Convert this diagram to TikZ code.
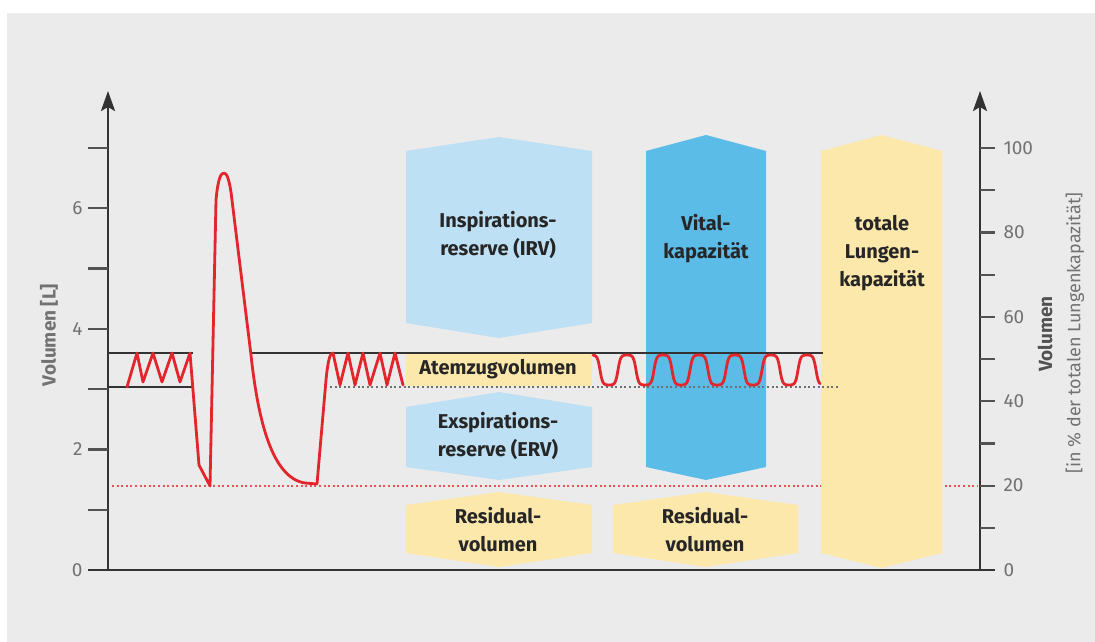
\documentclass[tikz,border=0pt]{standalone}
\usepackage{fontspec}
\setmainfont{Fira Sans}
\usepackage{xcolor}
\usepackage{tikz}
\usetikzlibrary{arrows.meta}
\definecolor{bg}{HTML}{EBEBEB}
\definecolor{axis}{HTML}{333333}
\definecolor{muted}{HTML}{727272}
\definecolor{ink}{HTML}{262626}
\definecolor{lightblue}{HTML}{BDE0F4}
\definecolor{midblue}{HTML}{5CBCE8}
\definecolor{pale}{HTML}{FDE8AC}
\definecolor{curve}{HTML}{E2262C}
\tikzset{
  ax/.style={-{Stealth[length=20pt,width=14pt,inset=4pt]}, line width=2.6pt, draw=axis},
  tk/.style={line width=2.2pt, draw=axis!85},
  level/.style={line width=2.7pt, draw=axis},
  dotlevel/.style={line width=2.2pt, draw=axis!70, dash pattern=on 2pt off 2.6pt},
  rvlevel/.style={line width=2.2pt, draw=curve!80, dash pattern=on 2pt off 2.6pt},
  breath/.style={line width=2.8pt, draw=curve, line join=round, line cap=round},
  lbl/.style={font=\fontsize{20}{28}\selectfont\bfseries, text=ink, align=center},
  num/.style={font=\fontsize{19}{19}\selectfont, text=muted},
  ttl/.style={font=\fontsize{19}{19}\selectfont\bfseries, text=muted, rotate=90}
}
\newcommand{\Hexa}[7]{% colour, x left, x right, top tip, top edge, bottom edge, bottom tip
  \fill[#1] (#2,#5) -- ({(#2+#3)/2},#4) -- (#3,#5) -- (#3,#6) -- ({(#2+#3)/2},#7) -- (#2,#6) -- cycle;
}

\begin{document}
\begin{tikzpicture}[x=1pt,y=-1pt]
  \useasboundingbox (0,0) rectangle (1095,642);
  \fill[white] (0,0) rectangle (1095,642);
  \fill[bg] (7,13) rectangle (1095,642);
  % residual volume level
  \draw[rvlevel] (112,486) -- (978,486);
  % volume blocks
  \Hexa{pale}{821}{942}{135}{151}{553}{568}
  \Hexa{lightblue}{406}{592}{137}{151}{323}{338}
  \fill[pale] (406,353) rectangle (592,386);
  \Hexa{lightblue}{406}{592}{392}{407}{467}{480}
  \Hexa{pale}{406}{592}{492}{505}{553}{567}
  \Hexa{pale}{613}{798}{492}{505}{553}{567}
  \Hexa{midblue}{646}{766}{135}{151}{467}{480}
  % levels
  \draw[level] (108,353) -- (193,353);
  \draw[level] (108,387) -- (193,387);
  \draw[level] (250,353) -- (823,353);
  \draw[dotlevel] (330,387) -- (840,387);
  % spirogram
  \draw[breath] (127,387) -- (137,353) -- (143,382) -- (153,353) -- (162,382)
    -- (172,353) -- (180,382) -- (190,353) -- (199,465) -- (210,486)
    -- (216,200) .. controls (218,178) and (221,173) .. (224,173)
    .. controls (227,173) and (229,180) .. (231,192) -- (251,355)
    .. controls (258,420) and (272,478) .. (305,483) -- (317,484)
    -- (326,380) .. controls (328,360) and (330,353) .. (333,353)
    -- (340,385) -- (348,353) -- (355,385) -- (363,353) -- (370,385)
    -- (380,353) -- (387,385) -- (395,353) -- (403,385);
  \draw[breath] plot[domain=593:820, samples=220]
    (\x, {370 - 15*tanh(2.2*cos(10*(\x-627)))/tanh(2.2)});
  % axes
  \draw[line width=2.6pt, draw=axis] (88,570) -- (995,570);
  \draw[ax] (108,571) -- (108,91);
  \draw[ax] (980,571) -- (980,91);
  \foreach \k in {1,...,7}
    \draw[tk] (88,{570-60.3*\k}) -- (108,{570-60.3*\k});
  \foreach \k in {1,...,10}
    \draw[tk] (980,{570-42.2*\k}) -- (995,{570-42.2*\k});
  \foreach \v in {0,2,4,6}
    \node[num, anchor=east] (l\v) at (86,{570-60.3*\v}) {\v};
  \foreach \p in {0,20,40,60,80,100}
    \node[num, anchor=west] (r\p) at (1000,{570-4.22*\p}) {\p};
  \node[ttl] (ytitle) at (49,335) {Volumen [L]};
  \node[ttl, text=axis!85] (ytitleR) at (1045,334) {Volumen};
  \node[ttl, font=\fontsize{18}{18}\selectfont] (ysubR) at (1075,333) {[in \% der totalen Lungenkapazität]};
  % block labels
  \node[lbl] (irv) at (498,235) {Inspirations-\\reserve (IRV)};
  \node[lbl] (atv) at (498,369) {Atemzugvolumen};
  \node[lbl] (erv) at (498,436) {Exspirations-\\reserve (ERV)};
  \node[lbl] (rv1) at (498,530) {Residual-\\volumen};
  \node[lbl] (rv2) at (705,530) {Residual-\\volumen};
  \node[lbl] (vc) at (706,239) {Vital-\\kapazität};
  \node[lbl] (tlc) at (882,253) {totale\\Lungen-\\kapazität};
\end{tikzpicture}
\end{document}
